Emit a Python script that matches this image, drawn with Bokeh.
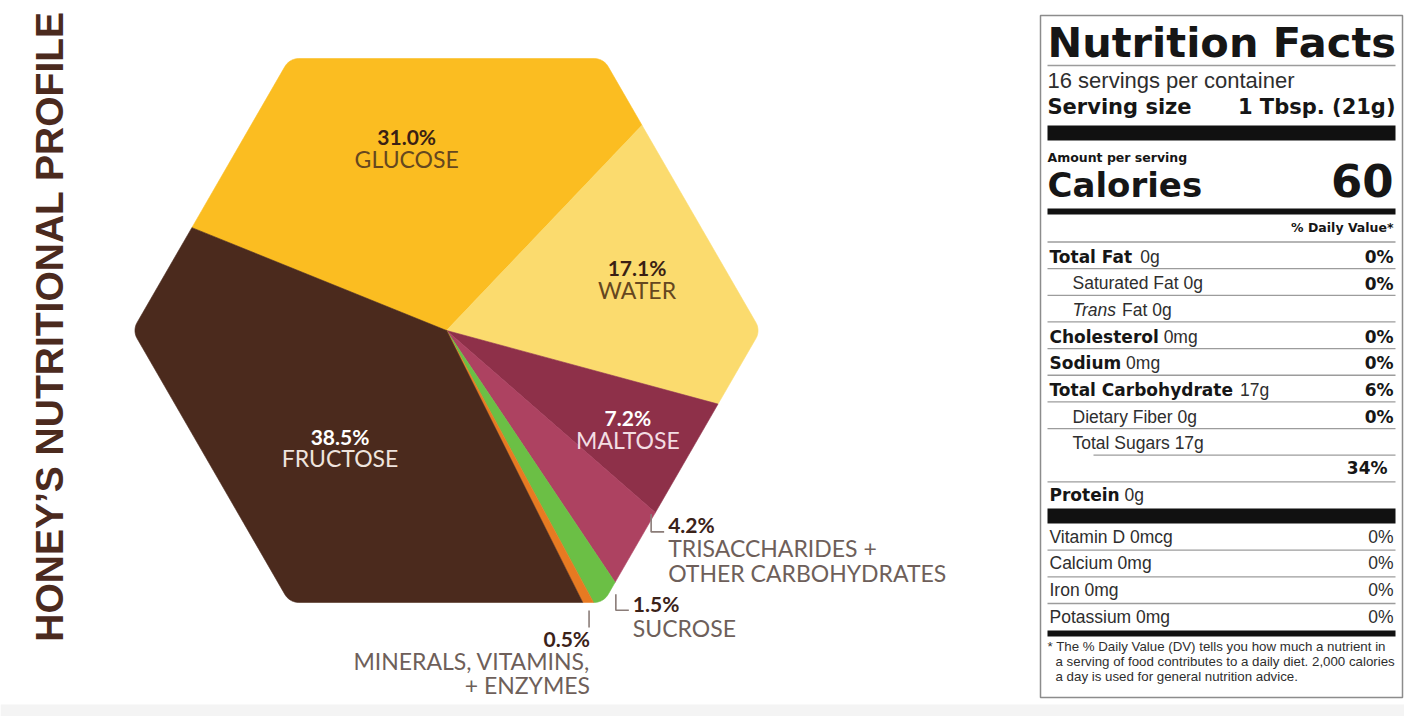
import numpy as np
from bokeh.plotting import figure
from bokeh.models import Range1d, Label
from bokeh.embed import file_html
from bokeh.resources import INLINE
from bokeh.core.properties import value

# ---------------- data ----------------
components = ["Glucose", "Water", "Maltose", "Trisaccharides + other carbohydrates",
              "Sucrose", "Minerals, vitamins + enzymes", "Fructose"]
percent = [31.0, 17.1, 7.2, 4.2, 1.5, 0.5, 38.5]
label_names = [["GLUCOSE"], ["WATER"], ["MALTOSE"],
               ["TRISACCHARIDES +", "OTHER CARBOHYDRATES"],
               ["SUCROSE"], ["MINERALS, VITAMINS,", "+ ENZYMES"], ["FRUCTOSE"]]
slice_colors = ["#FBBD21", "#FBDB6E", "#8E3049", "#AD4261", "#6BBF45", "#E77A22", "#4B2A1D"]

title_text = "HONEY\u2019S NUTRITIONAL PROFILE"

nf_title = "Nutrition Facts"
servings = "16 servings per container"
serving_size_label = "Serving size"
serving_size_value = "1 Tbsp. (21g)"
amount_label = "Amount per serving"
calories_label = "Calories"
calories_value = "60"
dv_header = "% Daily Value*"

nutrient_names = ["Total Fat", "Saturated Fat", "Trans Fat", "Cholesterol", "Sodium",
                  "Total Carbohydrate", "Dietary Fiber", "Total Sugars", "", "Protein"]
nutrient_amounts = ["0g", "0g", "0g", "0mg", "0mg", "17g", "0g", "17g", "", "0g"]
nutrient_dv = ["0%", "0%", "", "0%", "0%", "6%", "0%", "", "34%", ""]
nutrient_indent = [0, 1, 1, 0, 0, 0, 1, 1, 2, 0]
nutrient_bold = [True, False, False, True, True, True, False, False, False, True]

vitamin_names = ["Vitamin D", "Calcium", "Iron", "Potassium"]
vitamin_amounts = ["0mcg", "0mg", "0mg", "0mg"]
vitamin_dv = ["0%", "0%", "0%", "0%"]

footnote = ["* The % Daily Value (DV) tells you how much a nutrient in",
            "a serving of food contributes to a daily diet. 2,000 calories",
            "a day is used for general nutrition advice."]

# ---------------- figure ----------------
W, H = 1404, 716
p = figure(width=W, height=H, x_range=Range1d(0, W), y_range=Range1d(H, 0),
           output_backend="svg", toolbar_location=None, min_border=0,
           x_axis_location=None, y_axis_location=None)
p.grid.visible = False
p.outline_line_color = None
p.background_fill_color = "white"
p.border_fill_color = "white"

p.quad(left=[0], right=[W], top=[704], bottom=[H], fill_color="#F4F4F4", line_color=None)

SHIFT = 0.37  # baseline correction (fraction of font size)


def txt(x, y, s, size, color, font="Liberation Sans", style="normal", align="left"):
    p.text(x=[x], y=[y - SHIFT * size], text=[s], text_font=value(font),
           text_font_size=f"{size}px", text_font_style=style, text_color=color,
           text_align=align, text_baseline="alphabetic")


# ---------------- vertical title ----------------
p.add_layout(Label(x=63 - SHIFT * 39, y=326, text=title_text, angle=90, angle_units="deg",
                   text_align="center", text_baseline="alphabetic",
                   text_font="Liberation Sans", text_font_style="bold",
                   text_font_size="39px", text_color="#4B2A1E"))

# ---------------- hexagonal pie ----------------
CX, CY, R, RC = 446.0, 330.0, 314.0, 16.0
START = 158.0  # degrees, slices run clockwise from here

pts = []
cdist = R - RC / np.sin(np.pi / 3)
for k in range(6):
    phi = np.deg2rad(60 * k)
    ccx, ccy = cdist * np.cos(phi), cdist * np.sin(phi)
    for a in np.linspace(phi - np.pi / 6, phi + np.pi / 6, 14):
        pts.append((ccx + RC * np.cos(a), ccy + RC * np.sin(a)))
hx = np.array([q[0] for q in pts])
hy = np.array([q[1] for q in pts])
hang = np.arctan2(hy, hx)
n_b = len(hx)


def ray_hit(theta):
    u = np.array([np.cos(theta), np.sin(theta)])
    for i in range(n_b):
        A = np.array([hx[i], hy[i]])
        B = np.array([hx[(i + 1) % n_b], hy[(i + 1) % n_b]])
        d = B - A
        den = u[0] * d[1] - u[1] * d[0]
        if abs(den) < 1e-12:
            continue
        t = (A[0] * d[1] - A[1] * d[0]) / den
        s = (A[0] * u[1] - A[1] * u[0]) / den
        if t > 0 and -1e-9 <= s <= 1 + 1e-9:
            return t
    return R


def slice_poly(t0, t1):
    xs, ys = [0.0], [0.0]
    r0 = ray_hit(t0)
    xs.append(r0 * np.cos(t0)); ys.append(r0 * np.sin(t0))
    rel = (hang - t0) % (2 * np.pi)
    span = t1 - t0
    idx = np.where((rel > 1e-9) & (rel < span - 1e-9))[0]
    idx = idx[np.argsort(rel[idx])]
    for i in idx:
        xs.append(hx[i]); ys.append(hy[i])
    r1 = ray_hit(t1)
    xs.append(r1 * np.cos(t1)); ys.append(r1 * np.sin(t1))
    return [CX + v for v in xs], [CY - v for v in ys]


cum = np.concatenate([[0.0], np.cumsum(percent)])
sx, sy, mids = [], [], []
for i in range(len(percent)):
    a_start = np.deg2rad(START - cum[i] * 3.6)
    a_end = np.deg2rad(START - cum[i + 1] * 3.6)
    xs, ys = slice_poly(a_end, a_start)
    sx.append(xs); sy.append(ys)
    mids.append(0.5 * (a_start + a_end))

p.patches(xs=sx, ys=sy, fill_color=slice_colors, line_color=slice_colors, line_width=0.6)

LABEL_FONT = "Lato"
pct_text = [f"{v:.1f}%" for v in percent]

# inside labels: (radius fraction, pct colour, name colour)
inside = {0: (0.60, "#3A1F14", "#65471F"), 1: (0.63, "#3A1F14", "#65471F"),
          2: (0.655, "#FFFFFF", "#F3DDE3"), 6: (0.50, "#FFFFFF", "#EFE4DD")}
for i, (f, cpct, cname) in inside.items():
    lx = CX + f * R * np.cos(mids[i])
    ly = CY - f * R * np.sin(mids[i])
    txt(lx, ly - 2, pct_text[i], 21, cpct, LABEL_FONT, "bold", "center")
    txt(lx, ly + 21, label_names[i][0], 23, cname, LABEL_FONT, "normal", "center")

OUT_PCT = "#3B2219"
OUT_NAME = "#6E5F5A"
BRACKET = "#8A7C78"


def edge_point(i):
    r = ray_hit(mids[i])
    return CX + r * np.cos(mids[i]), CY - r * np.sin(mids[i])


# trisaccharides: bracket to the right of the edge
ex, ey = edge_point(3)
bx, by = ex + 15, ey - 14
p.line(x=[bx, bx, bx + 13], y=[by - 18, by, by], line_color=BRACKET, line_width=1.6)
txt(bx + 17, by, pct_text[3], 21, OUT_PCT, LABEL_FONT, "bold")
txt(bx + 17, by + 25, label_names[3][0], 23, OUT_NAME, LABEL_FONT)
txt(bx + 17, by + 50, label_names[3][1], 23, OUT_NAME, LABEL_FONT)

# sucrose: bracket below-right of corner
ex, ey = edge_point(4)
bx, by = ex + 9, ey + 14
p.line(x=[bx, bx, bx + 13], y=[by - 16, by, by], line_color=BRACKET, line_width=1.6)
txt(bx + 17, by + 1, pct_text[4], 21, OUT_PCT, LABEL_FONT, "bold")
txt(bx + 17, by + 26, label_names[4][0], 23, OUT_NAME, LABEL_FONT)

# minerals: vertical tick below the bottom edge
ex, ey = edge_point(5)
p.line(x=[ex + 1, ex + 1], y=[ey + 8, ey + 25], line_color=BRACKET, line_width=1.6)
txt(ex + 2, ey + 44, pct_text[5], 21, OUT_PCT, LABEL_FONT, "bold", "right")
txt(ex + 2, ey + 67, label_names[5][0], 23, OUT_NAME, LABEL_FONT, "normal", "right")
txt(ex + 2, ey + 91, label_names[5][1], 23, OUT_NAME, LABEL_FONT, "normal", "right")

# ---------------- nutrition facts label ----------------
BOX_L, BOX_R, BOX_T, BOX_B = 1040, 1402, 15, 697
RL, RR = 1047, 1395
LX, IX, RX = 1049, 1072, 1393
INK = "#161616"
REG = "#2E2E2E"
RULE = "#9C9C9C"
BOLD_FONT = "DejaVu Sans"
REG_FONT = "Liberation Sans"
SPACE_REG = 0.278  # Liberation Sans space width (em)

p.quad(left=[BOX_L], right=[BOX_R], top=[BOX_T], bottom=[BOX_B],
       fill_color=None, line_color="#8C8C8C", line_width=1.5)

# DejaVu Sans Bold advance widths (em)
DJB = {" ": .348, "T": .682, "o": .687, "t": .478, "a": .675, "l": .343, "F": .683,
       "C": .734, "h": .712, "e": .678, "s": .595, "r": .493, "S": .720, "d": .716,
       "i": .343, "u": .712, "m": 1.042, "b": .716, "y": .652, "P": .733, "n": .712}


def bold_width(s, size):
    return sum(DJB.get(c, .65) for c in s) * size


# thick bars
bars = [(125, 140), (208, 214), (508, 523), (630, 636)]
p.quad(left=[RL] * 4, right=[RR] * 4, top=[b[0] for b in bars], bottom=[b[1] for b in bars],
       fill_color="#111111", line_color=None)

# thin rules
rule_y = [65, 241.5]
rule_x0 = [RL, RL]
row_top, pitch = 241.5, 26.65
for i in range(len(nutrient_names) - 1):
    rule_y.append(row_top + (i + 1) * pitch)
    rule_x0.append(1093 if i == 7 else RL)
vit_top, vpitch = 523.0, 26.67
for i in range(len(vitamin_names) - 1):
    rule_y.append(vit_top + (i + 1) * vpitch)
    rule_x0.append(RL)
p.segment(x0=rule_x0, y0=rule_y, x1=[RR] * len(rule_y), y1=rule_y,
          line_color=RULE, line_width=1.3)

# header texts
txt(1047, 57, nf_title, 41.5, INK, BOLD_FONT, "bold")
txt(1047, 88, servings, 22, REG, REG_FONT)
txt(1047, 114, serving_size_label, 21, INK, BOLD_FONT, "bold")
txt(1395, 114, serving_size_value, 21, INK, BOLD_FONT, "bold", "right")
txt(1047, 162, amount_label, 12.5, INK, BOLD_FONT, "bold")
txt(1047, 197, calories_label, 34, INK, BOLD_FONT, "bold")
txt(RX, 197, calories_value, 45, INK, BOLD_FONT, "bold", "right")
txt(RX, 232, dv_header, 12.5, INK, BOLD_FONT, "bold", "right")

# nutrient rows
for i, name in enumerate(nutrient_names):
    base = row_top + (i + 1) * pitch - 5.5
    if i == len(nutrient_names) - 1:
        base -= 1.5
    x0 = IX if nutrient_indent[i] == 1 else LX
    if name:
        if nutrient_bold[i]:
            txt(x0, base, name, 17, INK, BOLD_FONT, "bold")
            txt(x0 + bold_width(name, 17) + SPACE_REG * 17.5, base, nutrient_amounts[i],
                17.5, REG, REG_FONT)
        elif name.startswith("Trans"):
            txt(x0, base, "Trans", 17.5, REG, REG_FONT, "italic")
            txt(x0 + 44.7 + SPACE_REG * 17.5, base, name[6:] + " " + nutrient_amounts[i],
                17.5, REG, REG_FONT)
        else:
            txt(x0, base, name + " " + nutrient_amounts[i], 17.5, REG, REG_FONT)
    if nutrient_dv[i]:
        is_sub = nutrient_indent[i] == 2
        txt(RX - 6 if is_sub else RX, base - (2 if is_sub else 0), nutrient_dv[i], 17,
            INK, BOLD_FONT, "bold", "right")

# vitamins / minerals rows
for i, name in enumerate(vitamin_names):
    base = vit_top + (i + 1) * vpitch - 7
    txt(LX, base, name + " " + vitamin_amounts[i], 17.5, REG, REG_FONT)
    txt(RX, base, vitamin_dv[i], 17.5, REG, REG_FONT, "normal", "right")

# footnote
txt(1047, 651, footnote[0], 13.3, REG, REG_FONT)
txt(1055, 666, footnote[1], 13.3, REG, REG_FONT)
txt(1055, 681, footnote[2], 13.3, REG, REG_FONT)

open("out.html", "w").write(file_html(p, INLINE))
